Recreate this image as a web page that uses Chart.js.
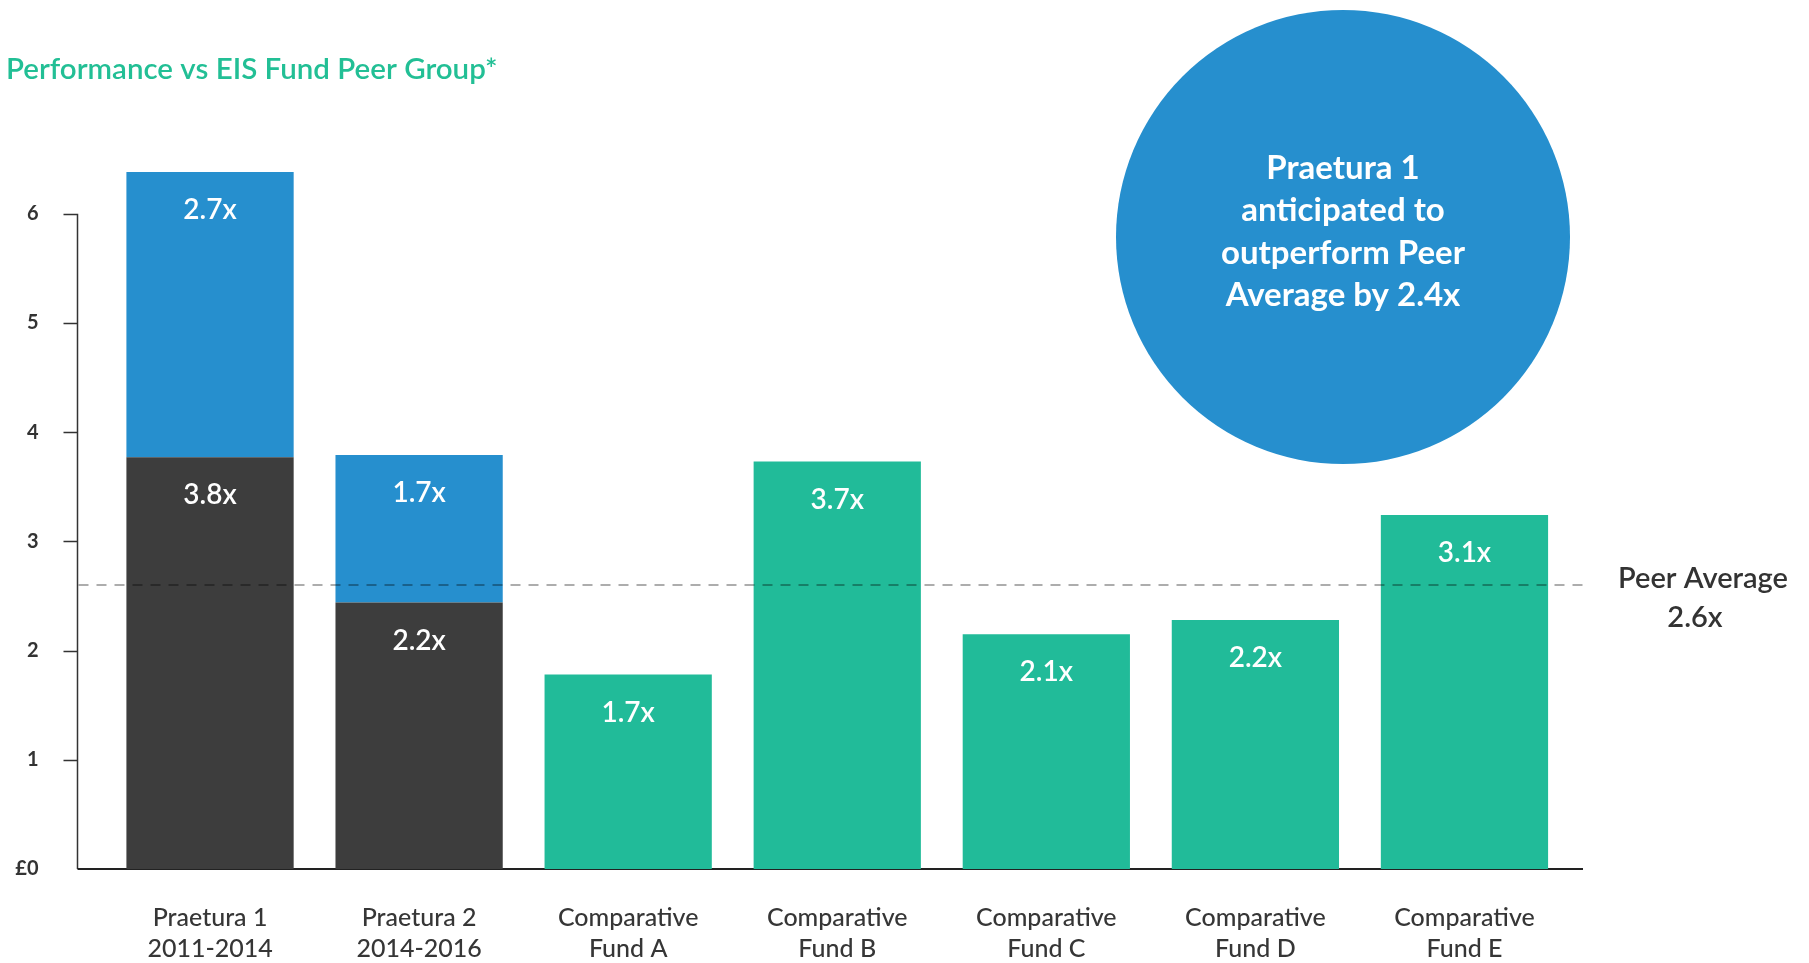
<!DOCTYPE html>
<html>
<head>
<meta charset="utf-8">
<title>Performance vs EIS Fund Peer Group</title>
<script src="https://cdn.jsdelivr.net/npm/chart.js@4/dist/chart.umd.min.js"></script>
<style>
    html, body { margin: 0; padding: 0; background: #ffffff; }
    canvas { display: block; }
</style>
</head>
<body>
<canvas id="peerChart" width="1809" height="963"></canvas>
<script>
// Chart data
const categories = [
    ['Praetura 1', '2011-2014'],
    ['Praetura 2', '2014-2016'],
    ['Comparative', 'Fund A'],
    ['Comparative', 'Fund B'],
    ['Comparative', 'Fund C'],
    ['Comparative', 'Fund D'],
    ['Comparative', 'Fund E']
];
const realisedValues = [3.77, 2.44, null, null, null, null, null];
const anticipatedValues = [2.61, 1.35, null, null, null, null, null];
const comparativeValues = [null, null, 1.78, 3.73, 2.15, 2.28, 3.24];
const realisedLabels = ['3.8x', '2.2x', null, null, null, null, null];
const anticipatedLabels = ['2.7x', '1.7x', null, null, null, null, null];
const comparativeLabels = [null, null, '1.7x', '3.7x', '2.1x', '2.2x', '3.1x'];
const yTicks = [0, 1, 2, 3, 4, 5, 6];
const peerAverage = 2.6;
const calloutLines = ['Praetura 1', 'anticipated to', 'outperform Peer', 'Average by 2.4x'];

const FONT = 'Lato, "Noto Sans", sans-serif';
const DARK = '#3d3d3d';
const BLUE = '#268fce';
const GREEN = '#21bb99';

// axis lines, peer average line, callout bubble and bar labels
const decorations = {
    id: 'decorations',
    beforeDatasetsDraw(chart) {
        const ctx = chart.ctx;
        const area = chart.chartArea;
        const y = chart.scales.y;
        const axisX = area.left - 28;
        ctx.save();
        ctx.strokeStyle = '#333333';
        ctx.lineWidth = 1.5;
        ctx.beginPath();
        ctx.moveTo(axisX, y.getPixelForValue(yTicks[yTicks.length - 1]));
        ctx.lineTo(axisX, y.getPixelForValue(0));
        yTicks.forEach(t => {
            if (t === 0) return;
            const py = Math.round(y.getPixelForValue(t)) + 0.5;
            ctx.moveTo(axisX - 14, py);
            ctx.lineTo(axisX, py);
        });
        ctx.stroke();
        ctx.lineWidth = 2;
        ctx.strokeStyle = '#222222';
        ctx.beginPath();
        ctx.moveTo(axisX, y.getPixelForValue(0));
        ctx.lineTo(area.right + 14, y.getPixelForValue(0));
        ctx.stroke();

        // callout bubble
        ctx.fillStyle = BLUE;
        ctx.beginPath();
        ctx.arc(1343, 237, 227, 0, Math.PI * 2);
        ctx.fill();
        ctx.fillStyle = '#ffffff';
        ctx.font = '700 33px ' + FONT;
        ctx.textAlign = 'center';
        ctx.textBaseline = 'middle';
        calloutLines.forEach((line, i) => {
            ctx.fillText(line, 1343, 168 + i * 42.5);
        });
        ctx.restore();
    },
    afterDatasetsDraw(chart) {
        const ctx = chart.ctx;
        const area = chart.chartArea;
        const py = chart.scales.y.getPixelForValue(peerAverage);
        ctx.save();
        ctx.strokeStyle = 'rgba(0,0,0,0.32)';
        ctx.lineWidth = 2;
        ctx.setLineDash([10, 8]);
        ctx.beginPath();
        ctx.moveTo(area.left - 27, py);
        ctx.lineTo(area.right + 19, py);
        ctx.stroke();
        ctx.setLineDash([]);

        ctx.fillStyle = '#333333';
        ctx.font = '600 29px ' + FONT;
        ctx.textAlign = 'center';
        ctx.textBaseline = 'middle';
        ctx.fillText('Peer Average', 1703, py - 6);
        ctx.fillText(peerAverage.toFixed(1) + 'x', 1695, py + 33);

        // value labels inside bars
        const labelSets = [realisedLabels, anticipatedLabels, comparativeLabels];
        ctx.fillStyle = '#ffffff';
        ctx.font = '600 28px ' + FONT;
        labelSets.forEach((labels, di) => {
            const meta = chart.getDatasetMeta(di);
            meta.data.forEach((bar, i) => {
                if (!labels[i]) return;
                ctx.fillText(labels[i], bar.x, bar.y + 38);
            });
        });
        ctx.restore();
    }
};

const ctx = document.getElementById('peerChart').getContext('2d');
const chart = new Chart(ctx, {
    type: 'bar',
    data: {
        labels: categories,
        datasets: [
            { label: 'Realised', data: realisedValues, backgroundColor: DARK },
            { label: 'Anticipated', data: anticipatedValues, backgroundColor: BLUE },
            { label: 'Comparative', data: comparativeValues, backgroundColor: GREEN }
        ]
    },
    options: {
        responsive: false,
        animation: false,
        devicePixelRatio: 1,
        barPercentage: 0.8,
        categoryPercentage: 1,
        layout: {
            padding: { left: 6, right: 240, top: 0, bottom: 0 }
        },
        plugins: {
            legend: { display: false },
            tooltip: { enabled: false },
            title: {
                display: true,
                text: 'Performance vs EIS Fund Peer Group*',
                align: 'start',
                color: '#22bf95',
                font: { family: FONT, size: 29.5, weight: '600', lineHeight: 1.2 },
                padding: { top: 52, bottom: 17 }
            }
        },
        scales: {
            x: {
                stacked: true,
                grid: { display: false, drawTicks: false },
                border: { display: false },
                afterFit(scale) {
                    scale.height = 94;
                },
                ticks: {
                    color: '#363636',
                    padding: 34,
                    maxRotation: 0,
                    font: { family: FONT, size: 25, weight: '500', lineHeight: 1.22 }
                }
            },
            y: {
                stacked: true,
                min: 0,
                max: 7,
                grid: { display: false, drawTicks: false },
                border: { display: false },
                afterBuildTicks(scale) {
                    scale.ticks = yTicks.map(v => ({ value: v }));
                },
                afterFit(scale) {
                    scale.width = 99.5;
                },
                ticks: {
                    color: '#333333',
                    padding: 67,
                    font: { family: FONT, size: 20, weight: '700' },
                    callback: v => (v === 0 ? '£0' : String(v))
                }
            }
        }
    },
    plugins: [decorations]
});
</script>
</body>
</html>
